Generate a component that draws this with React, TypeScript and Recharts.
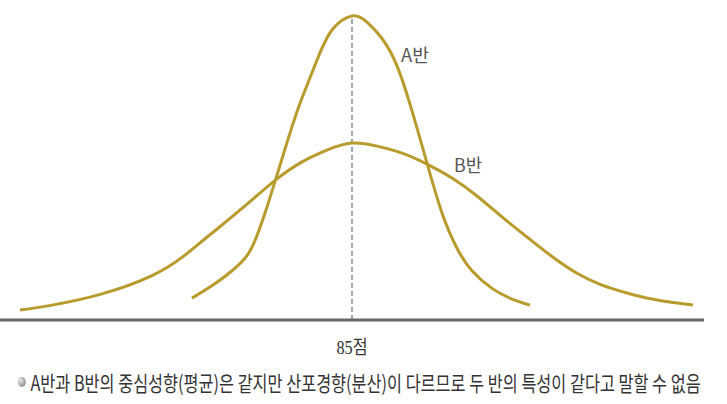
import { LineChart, Line, XAxis, YAxis, ReferenceLine, ReferenceDot } from 'recharts';

// 점수(x)와 상대 빈도(y, A반 최고점 = 100)
const classAScores = [69, 70, 71.5, 73, 74.5, 75.5, 76.5, 77.5, 79, 80, 81.5, 83, 85, 86.5, 88, 89.5, 91, 92.5, 94, 95.5, 97, 99, 101, 102.8];
const classAValues = [7.2, 9.2, 12.4, 16.2, 21.2, 27.8, 37.2, 47.7, 63.6, 73, 85.5, 95.4, 100, 98, 92.6, 83.6, 68.8, 51.6, 35.2, 23.6, 16.2, 10.4, 6.9, 4.9];

const classBScores = [51.8, 55, 60, 65, 68, 70, 72.5, 75, 77.5, 80, 82.5, 85, 87.5, 90, 92.5, 95, 97.5, 100, 102.5, 105, 107.5, 110, 112.5, 115, 117.5, 119.1];
const classBValues = [3.3, 4.9, 8.6, 14.6, 20.6, 25.9, 32.6, 39.5, 46.4, 52, 55.9, 58.2, 57.2, 54.9, 51.3, 46.7, 40.8, 33.9, 27.3, 20.9, 15.4, 11.5, 8.9, 6.9, 5.6, 4.9];

const MEAN_SCORE = 85;
const xTicks = [MEAN_SCORE];
const caption = 'A반과 B반의 중심성향(평균)은 같지만 산포경향(분산)이 다르므로 두 반의 특성이 같다고 말할 수 없음';

const dataA = classAScores.map((x, i) => ({ x, y: classAValues[i] }));
const dataB = classBScores.map((x, i) => ({ x, y: classBValues[i] }));

const CURVE = '#b89b2d';

function ScoreTick({ x, y, payload }: any) {
  return (
    <text
      x={x}
      y={y + 26}
      textAnchor="middle"
      fontSize={19}
      fill="#333"
      fontFamily="'Liberation Serif', 'Noto Sans CJK KR', serif"
      textLength={31}
      lengthAdjust="spacingAndGlyphs"
    >
      {`${payload.value}점`}
    </text>
  );
}

function ClassLabel({ viewBox, text }: any) {
  return (
    <text
      x={viewBox.cx ?? viewBox.x}
      y={viewBox.cy ?? viewBox.y}
      textAnchor="middle"
      dominantBaseline="central"
      fontSize={18}
      fill="#555"
      fontFamily="'Noto Sans CJK KR', sans-serif"
      textLength={28}
      lengthAdjust="spacingAndGlyphs"
    >
      {text}
    </text>
  );
}

export default function App() {
  return (
    <div style={{ position: 'absolute', left: 0, top: 0, width: 727, height: 404, background: '#fff', overflow: 'hidden' }}>
      <LineChart width={727} height={404} margin={{ top: 16, right: 23, left: 0, bottom: 54 }}>
        <XAxis
          type="number"
          dataKey="x"
          domain={[49.8, 120.2]}
          ticks={xTicks}
          tickLine={false}
          axisLine={{ stroke: '#666', strokeWidth: 3 }}
          tick={<ScoreTick />}
          height={30}
        />
        <YAxis type="number" domain={[0, 100]} hide />
        <ReferenceLine
          segment={[{ x: MEAN_SCORE, y: 0 }, { x: MEAN_SCORE, y: 100 }]}
          stroke="#6b7a8c"
          strokeWidth={1.3}
          strokeDasharray="5 3"
        />
        <Line data={dataB} dataKey="y" type="natural" stroke={CURVE} strokeWidth={3} dot={false} isAnimationActive={false} />
        <Line data={dataA} dataKey="y" type="natural" stroke={CURVE} strokeWidth={3} dot={false} isAnimationActive={false} />
        <ReferenceDot x={91.3} y={87.5} r={0} stroke="none" fill="none" label={<ClassLabel text="A반" />} />
        <ReferenceDot x={96.6} y={51.3} r={0} stroke="none" fill="none" label={<ClassLabel text="B반" />} />
      </LineChart>
      <div
        style={{
          position: 'absolute',
          left: 18,
          top: 368,
          display: 'flex',
          alignItems: 'center',
          whiteSpace: 'nowrap',
          fontFamily: "'Noto Sans CJK KR', sans-serif",
          fontSize: 21,
          lineHeight: '28px',
          color: '#333',
          transform: 'scaleX(0.775)',
          transformOrigin: '0 50%',
        }}
      >
        <span
          style={{
            display: 'inline-block',
            width: 10,
            height: 10,
            borderRadius: '50%',
            marginRight: 6,
            background: 'radial-gradient(circle at 35% 35%, #e8e8e8, #6a6a6a)',
          }}
        />
        {caption}
      </div>
    </div>
  );
}
